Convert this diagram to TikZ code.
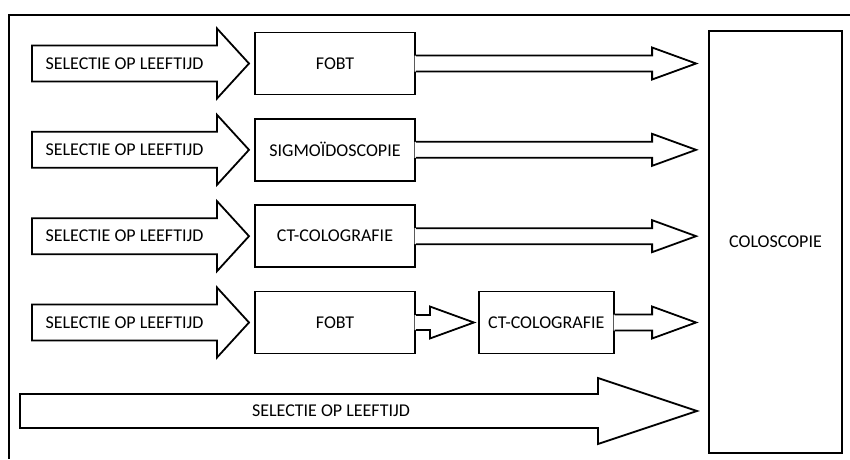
\documentclass[tikz,border=0pt]{standalone}
\usepackage{fontspec}
\setmainfont{Carlito}
\usetikzlibrary{calc,positioning}

\begin{document}
\begin{tikzpicture}[
  x=1pt,y=-1pt,
  font=\fontsize{18}{21}\selectfont,
  outline/.style={line width=1.8pt,line join=miter,draw=black},
  lab/.style={inner sep=0pt},
  test/.style={outline,fill=white,inner sep=2pt,minimum width=160pt,
    minimum height=62pt},
  wide/.style={outline,fill=white}
]
\useasboundingbox (0,0) rectangle (850,459);
% only the top and left edges of the frame fall inside the page
\draw[outline] (850,15) -- (9,15) -- (9,459);

\node[test,minimum width=133pt,minimum height=422pt] (colo)
  at (775.5,242) {COLOSCOPIE};

% one row per screening route: age selection, then the first test
\foreach \i/\name in {1/FOBT,2/SIGMOÏDOSCOPIE,3/CT-COLOGRAFIE,4/FOBT} {
  \pgfmathsetmacro{\rowy}{63.5+86.33*(\i-1)}
  \coordinate (tail-\i) at (32,\rowy);
  \filldraw[wide] ([yshift=18pt]tail-\i) -- ++(185,0) -- ++(0,-17)
    -- ++(32,35) -- ++(-32,35) -- ++(0,-17) -- ++(-185,0) -- cycle;
  \node[lab] (age-\i) at ([xshift=92.5pt]tail-\i) {SELECTIE OP LEEFTIJD};
  \node[test] (test-\i) at (335,\rowy) {\name};
}
\node[test,minimum width=135pt,right=62pt of test-4] (ct) {CT-COLOGRAFIE};

% FOBT feeds the CT scan in the fourth route
\fill[white] ($(test-4.east)+(-1.2,-7.5)$) -- ++(15.2,0) -- ++(0,-8.5)
  -- ($(ct.west)+(-4,0)$) -- ++(-44,16) -- ++(0,-8.5)
  -- ($(test-4.east)+(-1.2,7.5)$) -- cycle;
\draw[outline] ($(test-4.east)+(0,-7.5)$) -- ++(14,0) -- ++(0,-8.5)
  -- ($(ct.west)+(-4,0)$) -- ++(-44,16) -- ++(0,-8.5)
  -- ($(test-4.east)+(0,7.5)$);

% every last test leads on to colonoscopy
\foreach \src in {test-1,test-2,test-3,ct} {
  \fill[white] ($(\src.east)+(-1.2,-8)$)
    -- ($(\src.east -| colo.west)+(-56,-8)$) -- ++(0,-8)
    -- ($(\src.east -| colo.west)+(-12,0)$) -- ++(-44,16) -- ++(0,-8)
    -- ($(\src.east)+(-1.2,8)$) -- cycle;
  \draw[outline] ($(\src.east)+(0,-8)$)
    -- ($(\src.east -| colo.west)+(-56,-8)$) -- ++(0,-8)
    -- ($(\src.east -| colo.west)+(-12,0)$) -- ++(-44,16) -- ++(0,-8)
    -- ($(\src.east)+(0,8)$);
}

% direct route on age alone
\coordinate (tail-5) at (20,411);
\filldraw[wide] ([yshift=17pt]tail-5) -- ++(578,0) -- ++(0,-16)
  -- ++(99,33) -- ++(-99,33) -- ++(0,-16) -- ++(-578,0) -- cycle;
\node[lab] (age-5) at (331,411) {SELECTIE OP LEEFTIJD};
\end{tikzpicture}
\end{document}
